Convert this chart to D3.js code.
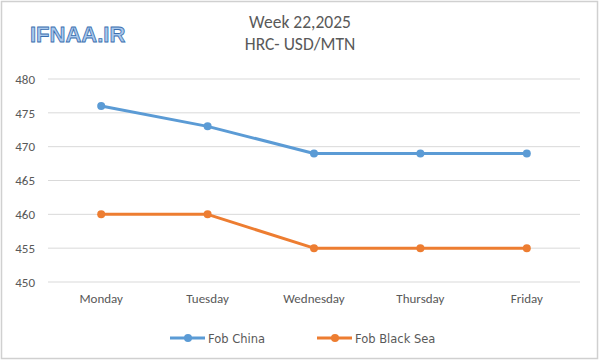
<!DOCTYPE html>
<html>
<head>
<meta charset="utf-8">
<script src="https://cdn.jsdelivr.net/npm/d3@7"></script>
<style>
  body { margin: 0; background: #fff; }
  text { font-family: Calibri, Carlito, "Open Sans", "Liberation Sans", sans-serif; }
</style>
</head>
<body>
<svg id="chart"></svg>
<script>
var days = ["Monday", "Tuesday", "Wednesday", "Thursday", "Friday"];
var fobChina = [476, 473, 469, 469, 469];
var fobBlackSea = [460, 460, 455, 455, 455];
var yTicks = [450, 455, 460, 465, 470, 475, 480];
var seriesNames = ["Fob China", "Fob Black Sea"];
var seriesColors = ["#5B9BD5", "#ED7D31"];

var screen = { width: 600, height: 360 };
var margins = { top: 79, bottom: 78, left: 48, right: 20 };
var graph = {
  width: screen.width - margins.left - margins.right,
  height: screen.height - margins.top - margins.bottom
};

var svg = d3.select("#chart").attr("width", screen.width).attr("height", screen.height);

//border
svg.append("rect")
  .attr("x", 1.5).attr("y", 1.5)
  .attr("width", screen.width - 4).attr("height", screen.height - 3)
  .attr("fill", "#fff").attr("stroke", "#d0d0d0").attr("stroke-width", 1.5);

var xScale = d3.scaleBand().domain(days).range([0, graph.width]);
var yScale = d3.scaleLinear().domain([450, 480]).range([graph.height, 0]);

var g = svg.append("g")
  .attr("transform", "translate(" + margins.left + "," + margins.top + ")");

//gridlines
g.append("g").selectAll("line").data(yTicks).enter().append("line")
  .attr("x1", 0).attr("x2", graph.width)
  .attr("y1", function (d) { return yScale(d); })
  .attr("y2", function (d) { return yScale(d); })
  .attr("stroke", "#d9d9d9").attr("stroke-width", 1);

//axes
var yAxis = d3.axisLeft(yScale).tickValues(yTicks).tickSize(0).tickPadding(13);
var yG = g.append("g").call(yAxis);
yG.select(".domain").remove();
yG.selectAll("text").attr("fill", "#595959").style("font-size", "13px");

var xAxis = d3.axisBottom(xScale).tickSize(0).tickPadding(12);
var xG = g.append("g").attr("transform", "translate(0," + graph.height + ")").call(xAxis);
xG.select(".domain").remove();
xG.selectAll("text").attr("fill", "#595959").style("font-size", "13px");

//lines
var line = d3.line()
  .x(function (d, i) { return xScale(days[i]) + xScale.bandwidth() / 2; })
  .y(function (d) { return yScale(d); });

[fobChina, fobBlackSea].forEach(function (vals, k) {
  g.append("path").datum(vals)
    .attr("d", line).attr("fill", "none")
    .attr("stroke", seriesColors[k]).attr("stroke-width", 3)
    .attr("stroke-linejoin", "round");
  g.append("g").selectAll("circle").data(vals).enter().append("circle")
    .attr("cx", function (d, i) { return xScale(days[i]) + xScale.bandwidth() / 2; })
    .attr("cy", function (d) { return yScale(d); })
    .attr("r", 4).attr("fill", seriesColors[k]);
});

//titles
svg.append("text").text("Week 22,2025")
  .attr("x", 300).attr("y", 28).attr("text-anchor", "middle")
  .attr("fill", "#595959").style("font-size", "17.5px");
svg.append("text").text("HRC- USD/MTN")
  .attr("x", 300).attr("y", 50).attr("text-anchor", "middle")
  .attr("fill", "#595959").style("font-size", "17.5px");

//logo
svg.append("text").text("IFNAA.IR")
  .attr("x", 30).attr("y", 42)
  .attr("fill", "#a9c8ec").attr("stroke", "#3a6fb0").attr("stroke-width", 0.8)
  .style("font-size", "22px").style("font-weight", "bold")
  .style("font-family", "'Liberation Sans', sans-serif");

//legend
var legend = svg.append("g");
var legendX = [170, 317];
seriesNames.forEach(function (name, k) {
  var lg = legend.append("g").attr("transform", "translate(" + legendX[k] + ",338)");
  lg.append("line").attr("x1", 0).attr("x2", 35).attr("y1", 0).attr("y2", 0)
    .attr("stroke", seriesColors[k]).attr("stroke-width", 3);
  lg.append("circle").attr("cx", 18).attr("cy", 0).attr("r", 4).attr("fill", seriesColors[k]);
  lg.append("text").text(name).attr("x", 38).attr("y", 4.5)
    .attr("fill", "#595959").style("font-size", "11.5px")
    .style("font-family", "'DejaVu Sans', sans-serif");
});
</script>
</body>
</html>
